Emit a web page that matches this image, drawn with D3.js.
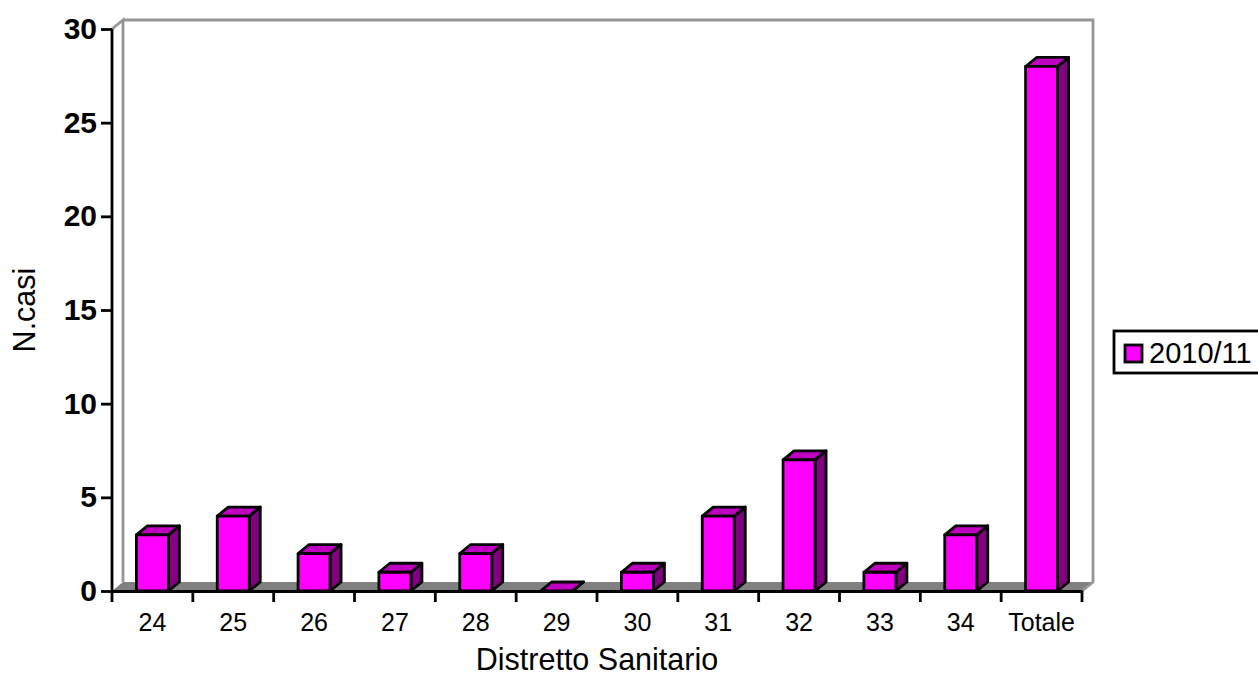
<!DOCTYPE html>
<html lang="en">
<head>
<meta charset="UTF-8">
<title>N.casi per Distretto Sanitario</title>
<style>
    body, html { margin: 0; padding: 0; background: #fff; overflow: hidden; }
    svg { display: block; }
    text { font-family: "Liberation Sans", Arial, sans-serif; fill: #000; }
    .ytick { font-size: 30px; font-weight: bold; }
    .xtick { font-size: 25px; }
    .title { font-size: 30.5px; }
</style>
</head>
<body>
<svg width="1258" height="677"></svg>
<script src="https://d3js.org/d3.v7.min.js"></script>
<script>
const categories = ['24', '25', '26', '27', '28', '29', '30', '31', '32', '33', '34', 'Totale'];
const casi = [3, 4, 2, 1, 2, 0, 1, 4, 7, 1, 3, 28];
const yTicks = [0, 5, 10, 15, 20, 25, 30];
const seriesName = '2010/11';
const xTitle = 'Distretto Sanitario';
const yTitle = 'N.casi';

const svg = d3.select('svg');
const plot = { left: 112, right: 1082, top: 29, bottom: 591 };
const depth = { x: 11, y: 9 };

const x = d3.scaleBand().domain(categories).range([plot.left, plot.right]).paddingInner(0).paddingOuter(0);
const y = d3.scaleLinear().domain([0, 30]).range([plot.bottom, plot.top]);
const barW = 32;
const lw = 2.8;

const grey = '#808080';

// floor and back walls
svg.append('path')
    .attr('d', `M${plot.left},${plot.bottom}L${plot.left + depth.x},${plot.bottom - depth.y}H${plot.right + depth.x}L${plot.right},${plot.bottom}Z`)
    .attr('fill', grey);
svg.append('path')
    .attr('d', `M${plot.left},${plot.top}L${plot.left + depth.x},${plot.top - depth.y}V${plot.bottom - depth.y}M${plot.left + depth.x},${plot.top - depth.y}H${plot.right + depth.x}V${plot.bottom - depth.y}L${plot.right},${plot.bottom}`)
    .attr('fill', 'none').attr('stroke', '#969696').attr('stroke-width', lw);

// bars
const bars = svg.selectAll('.bar').data(categories).enter().append('g').attr('class', 'bar')
    .attr('stroke', '#000').attr('stroke-width', lw).attr('stroke-linejoin', 'round');
const bx = d => x(d) + (x.bandwidth() - barW) / 2;
const by = (d, i) => y(casi[i]);
bars.append('path').attr('fill', '#800080')
    .attr('d', (d, i) => `M${bx(d) + barW},${by(d, i)}l${depth.x},${-depth.y}V${plot.bottom - depth.y}L${bx(d) + barW},${plot.bottom}Z`);
bars.append('path').attr('fill', '#c000c0')
    .attr('d', (d, i) => `M${bx(d)},${by(d, i)}l${depth.x},${-depth.y}h${barW}l${-depth.x},${depth.y}Z`);
bars.append('rect').attr('fill', '#ff00ff')
    .attr('x', d => bx(d)).attr('y', (d, i) => by(d, i))
    .attr('width', barW).attr('height', (d, i) => plot.bottom - by(d, i));

// axes
const xAxis = d3.axisBottom(x).tickSize(0).tickPadding(0);
const gx = svg.append('g').attr('transform', `translate(0,${plot.bottom})`).call(xAxis);
gx.select('.domain').attr('stroke', '#000').attr('stroke-width', lw);
gx.selectAll('.tick text').attr('class', 'xtick').attr('y', 22).attr('dy', '0.71em').attr('font-family', null).attr('font-size', null).attr('fill', null);
gx.selectAll('.edge').data(d3.range(categories.length + 1)).enter().append('line').attr('class', 'edge')
    .attr('x1', i => plot.left + i * x.step()).attr('x2', i => plot.left + i * x.step())
    .attr('y1', 0).attr('y2', 11).attr('stroke', '#000').attr('stroke-width', lw);

const yAxis = d3.axisLeft(y).tickValues(yTicks).tickSize(11).tickPadding(4);
const gy = svg.append('g').attr('transform', `translate(${plot.left},0)`).call(yAxis);
gy.select('.domain').attr('d', `M0,${plot.top}V${plot.bottom}`).attr('stroke', '#000').attr('stroke-width', lw);
gy.selectAll('.tick line').attr('stroke', '#000').attr('stroke-width', lw);
gy.selectAll('.tick text').attr('class', 'ytick').attr('font-family', null).attr('font-size', null).attr('fill', null);

// axis titles
svg.append('text').attr('class', 'title').attr('x', 597).attr('y', 670).attr('text-anchor', 'middle').text(xTitle);
svg.append('text').attr('class', 'title').attr('transform', 'translate(35,310) rotate(-90)').attr('text-anchor', 'middle').text(yTitle);

// legend
const legend = svg.append('g');
legend.append('rect').attr('x', 1114).attr('y', 331).attr('width', 150).attr('height', 42)
    .attr('fill', '#fff').attr('stroke', '#000').attr('stroke-width', lw);
legend.append('rect').attr('x', 1125).attr('y', 345).attr('width', 17).attr('height', 17)
    .attr('fill', '#ff00ff').attr('stroke', '#000').attr('stroke-width', lw);
legend.append('text').attr('x', 1149).attr('y', 363).attr('font-size', 29).text(seriesName);
</script>
</body>
</html>
